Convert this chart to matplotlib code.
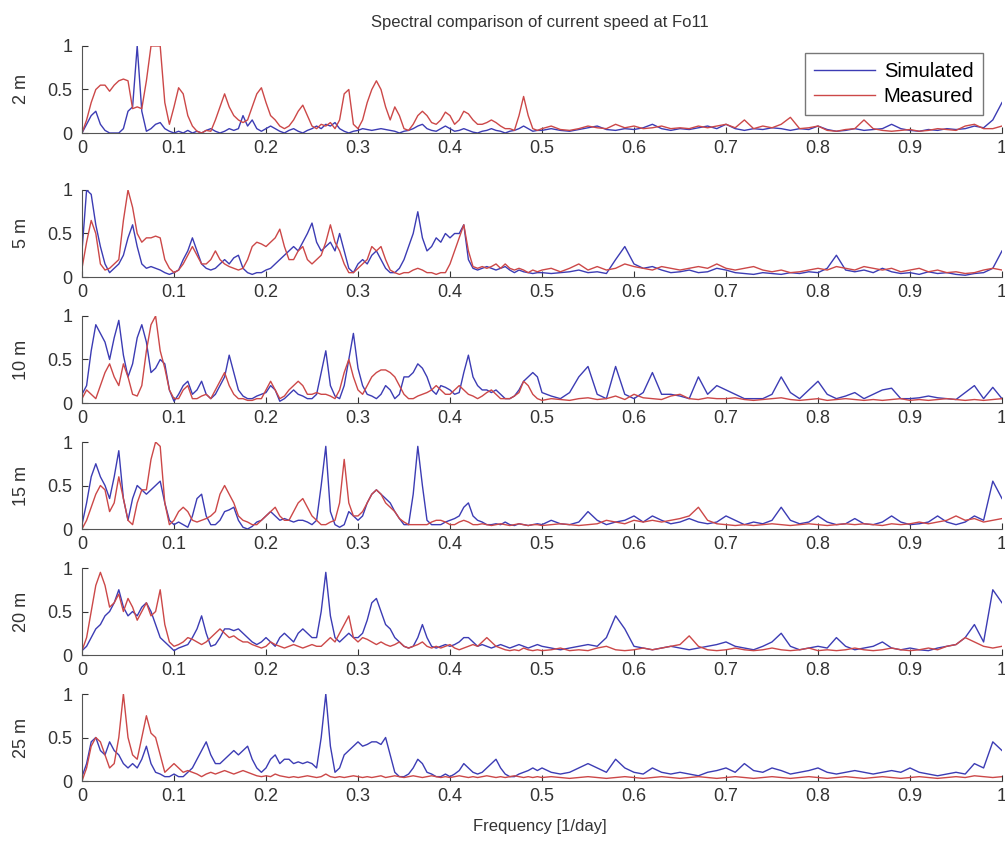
import numpy as np
import matplotlib.pyplot as plt

plt.rcParams['font.family'] = ['Liberation Sans', 'DejaVu Sans']

# frequency grid [1/day]: 0.005 steps up to 0.495, then 0.01 steps to 1.0
freq = np.concatenate([np.arange(100) * 0.005, 0.5 + np.arange(51) * 0.01])

depths = ['2 m', '5 m', '10 m', '15 m', '20 m', '25 m']

# normalised spectra (first 100 values: f < 0.5, last 51: f >= 0.5)
sim_2m = [
    0.0, 0.1, 0.2, 0.25, 0.1, 0.03, 0.0, 0.0, 0.0, 0.05,
    0.25, 0.3, 1.0, 0.25, 0.02, 0.05, 0.1, 0.12, 0.05, 0.02,
    0.0, 0.02, 0.0, 0.03, 0.0, 0.02, 0.0, 0.03, 0.05, 0.02,
    0.0, 0.02, 0.05, 0.03, 0.05, 0.2, 0.08, 0.15, 0.05, 0.02,
    0.05, 0.08, 0.05, 0.02, 0.0, 0.03, 0.05, 0.02, 0.0, 0.03,
    0.05, 0.08, 0.05, 0.1, 0.08, 0.12, 0.05, 0.02, 0.0, 0.02,
    0.03, 0.05, 0.04, 0.03, 0.04, 0.05, 0.04, 0.03, 0.02, 0.0,
    0.02, 0.03, 0.05, 0.08, 0.1, 0.05, 0.03, 0.02, 0.05, 0.08,
    0.05, 0.02, 0.03, 0.05, 0.03, 0.01, 0.0, 0.02, 0.03, 0.05,
    0.03, 0.02, 0.0, 0.02, 0.03, 0.05, 0.08, 0.05, 0.02, 0.03,
    0.03, 0.05, 0.03, 0.02, 0.04, 0.06, 0.08, 0.04, 0.03, 0.05,
    0.04, 0.06, 0.1, 0.05, 0.03, 0.05, 0.04, 0.06, 0.08, 0.05,
    0.1, 0.05, 0.03, 0.05, 0.04, 0.06, 0.05, 0.03, 0.05, 0.04,
    0.08, 0.04, 0.02, 0.03, 0.05, 0.03, 0.04, 0.05, 0.1, 0.05,
    0.03, 0.02, 0.04, 0.03, 0.05, 0.04, 0.05, 0.08, 0.06, 0.15,
    0.35]
meas_2m = [
    0.0, 0.15, 0.35, 0.5, 0.55, 0.55, 0.48, 0.55, 0.6, 0.62,
    0.6, 0.28, 0.3, 0.28, 0.6, 1.0, 1.0, 1.0, 0.35, 0.1,
    0.3, 0.52, 0.45, 0.2, 0.08, 0.02, 0.0, 0.03, 0.02, 0.15,
    0.3, 0.45, 0.3, 0.2, 0.15, 0.12, 0.15, 0.3, 0.45, 0.52,
    0.35, 0.2, 0.15, 0.08, 0.05, 0.08, 0.15, 0.25, 0.32, 0.2,
    0.08, 0.05, 0.1, 0.08, 0.12, 0.05, 0.15, 0.45, 0.5, 0.1,
    0.05, 0.15, 0.35, 0.5, 0.6, 0.5, 0.3, 0.15, 0.3, 0.2,
    0.05, 0.03, 0.1, 0.2, 0.25, 0.2, 0.12, 0.1, 0.15, 0.24,
    0.2, 0.1, 0.15, 0.25, 0.22, 0.15, 0.1, 0.1, 0.12, 0.15,
    0.12, 0.08, 0.05, 0.05, 0.03, 0.2, 0.42, 0.2, 0.05, 0.03,
    0.05, 0.08, 0.04, 0.03, 0.05, 0.08, 0.06, 0.05, 0.1, 0.06,
    0.08, 0.05, 0.06, 0.08, 0.05, 0.06, 0.05, 0.08, 0.06, 0.08,
    0.1, 0.06, 0.15, 0.05, 0.08, 0.06, 0.1, 0.18, 0.05, 0.06,
    0.08, 0.03, 0.02, 0.04, 0.05, 0.15, 0.05, 0.03, 0.02, 0.03,
    0.04, 0.02, 0.03, 0.05, 0.04, 0.03, 0.08, 0.1, 0.05, 0.05,
    0.08]

sim_5m = [
    0.3, 1.0, 0.95, 0.6, 0.35, 0.15, 0.05, 0.1, 0.15, 0.25,
    0.45, 0.6, 0.35, 0.15, 0.1, 0.12, 0.1, 0.08, 0.05, 0.03,
    0.05, 0.08, 0.2, 0.3, 0.45, 0.3, 0.15, 0.1, 0.08, 0.1,
    0.15, 0.2, 0.15, 0.22, 0.25, 0.1, 0.05, 0.03, 0.05, 0.05,
    0.08, 0.1, 0.15, 0.2, 0.25, 0.3, 0.35, 0.3, 0.4, 0.5,
    0.62, 0.4, 0.3, 0.35, 0.4, 0.3, 0.5, 0.3, 0.1, 0.05,
    0.15, 0.2, 0.15, 0.25, 0.3, 0.2, 0.1, 0.05, 0.05, 0.1,
    0.2, 0.35, 0.5, 0.75, 0.45, 0.3, 0.35, 0.45, 0.4, 0.5,
    0.45, 0.5, 0.5, 0.6, 0.2, 0.1, 0.08, 0.1, 0.12, 0.1,
    0.08, 0.1, 0.12, 0.08, 0.05, 0.08, 0.06, 0.05, 0.04, 0.05,
    0.05, 0.04, 0.05, 0.06, 0.08, 0.05, 0.06, 0.04, 0.2, 0.35,
    0.15, 0.1, 0.12, 0.08, 0.05, 0.06, 0.08, 0.05, 0.06, 0.1,
    0.08, 0.05, 0.04, 0.03, 0.05, 0.04, 0.03, 0.05, 0.04, 0.06,
    0.05, 0.1, 0.25, 0.08, 0.06, 0.08, 0.05, 0.1, 0.06, 0.04,
    0.05, 0.03, 0.06, 0.04, 0.05, 0.03, 0.02, 0.04, 0.05, 0.1,
    0.3]
meas_5m = [
    0.1, 0.4, 0.65, 0.5, 0.15, 0.08, 0.1, 0.15, 0.2, 0.65,
    1.0, 0.8, 0.5, 0.4, 0.45, 0.45, 0.47, 0.45, 0.2, 0.1,
    0.05, 0.08, 0.15, 0.25, 0.35, 0.25, 0.15, 0.15, 0.2, 0.3,
    0.2, 0.15, 0.12, 0.1, 0.08, 0.1, 0.2, 0.35, 0.4, 0.38,
    0.35, 0.4, 0.45, 0.55, 0.35, 0.2, 0.2, 0.3, 0.35, 0.2,
    0.15, 0.2, 0.25, 0.4, 0.6, 0.4, 0.3, 0.15, 0.05, 0.05,
    0.1, 0.15, 0.2, 0.35, 0.3, 0.35, 0.2, 0.08, 0.05, 0.03,
    0.05, 0.05, 0.08, 0.1, 0.08, 0.05, 0.05, 0.03, 0.05, 0.05,
    0.15, 0.3, 0.45, 0.6, 0.3, 0.12, 0.1, 0.12, 0.1, 0.12,
    0.15, 0.1, 0.15, 0.1, 0.08, 0.1, 0.08, 0.05, 0.08, 0.06,
    0.08, 0.1, 0.06, 0.1, 0.15, 0.08, 0.12, 0.08, 0.1, 0.15,
    0.12, 0.1, 0.08, 0.12, 0.1, 0.08, 0.1, 0.12, 0.1, 0.15,
    0.1, 0.08, 0.1, 0.12, 0.08, 0.06, 0.08, 0.05, 0.06, 0.08,
    0.1, 0.08, 0.12, 0.1, 0.08, 0.12, 0.1, 0.08, 0.1, 0.06,
    0.08, 0.1, 0.06, 0.08, 0.05, 0.06, 0.04, 0.05, 0.08, 0.1,
    0.08]

sim_10m = [
    0.1, 0.2, 0.6, 0.9, 0.8, 0.7, 0.5, 0.75, 0.95, 0.55,
    0.3, 0.45, 0.75, 0.9, 0.7, 0.35, 0.4, 0.5, 0.45, 0.15,
    0.02, 0.1, 0.2, 0.25, 0.1, 0.15, 0.25, 0.1, 0.05, 0.1,
    0.2, 0.3, 0.55, 0.35, 0.15, 0.08, 0.05, 0.05, 0.08, 0.1,
    0.12, 0.2, 0.15, 0.02, 0.05, 0.1, 0.15, 0.1, 0.08, 0.05,
    0.05, 0.1, 0.35, 0.6, 0.2, 0.08, 0.05, 0.2, 0.5, 0.8,
    0.4, 0.2, 0.1, 0.08, 0.05, 0.1, 0.2, 0.15, 0.05, 0.1,
    0.3, 0.3, 0.35, 0.45, 0.4, 0.3, 0.15, 0.1, 0.2, 0.18,
    0.15, 0.1, 0.12, 0.35, 0.55, 0.3, 0.2, 0.15, 0.15, 0.12,
    0.15, 0.1, 0.05, 0.05, 0.08, 0.15, 0.25, 0.3, 0.35, 0.3,
    0.12, 0.08, 0.05, 0.12, 0.3, 0.42, 0.1, 0.05, 0.42, 0.1,
    0.05, 0.12, 0.35, 0.1, 0.1, 0.08, 0.05, 0.3, 0.1, 0.2,
    0.15, 0.1, 0.05, 0.05, 0.05, 0.1, 0.3, 0.12, 0.05, 0.15,
    0.25, 0.1, 0.05, 0.08, 0.12, 0.05, 0.1, 0.15, 0.17, 0.05,
    0.05, 0.06, 0.08, 0.06, 0.05, 0.04, 0.12, 0.2, 0.05, 0.18,
    0.05]
meas_10m = [
    0.05, 0.15, 0.1, 0.05, 0.2, 0.35, 0.45, 0.3, 0.2, 0.45,
    0.3, 0.1, 0.08, 0.2, 0.6, 0.9, 1.0, 0.6, 0.4, 0.15,
    0.05, 0.05, 0.15, 0.2, 0.05, 0.05, 0.08, 0.1, 0.05, 0.15,
    0.25, 0.35, 0.2, 0.1, 0.05, 0.05, 0.03, 0.03, 0.05, 0.05,
    0.15, 0.25, 0.15, 0.05, 0.08, 0.15, 0.2, 0.25, 0.2, 0.1,
    0.1, 0.12, 0.1, 0.1, 0.08, 0.05, 0.15, 0.35, 0.5, 0.3,
    0.15, 0.1, 0.2, 0.3, 0.35, 0.38, 0.38, 0.35, 0.3, 0.2,
    0.1, 0.05, 0.05, 0.08, 0.1, 0.12, 0.15, 0.2, 0.15, 0.1,
    0.1, 0.15, 0.2, 0.15, 0.1, 0.08, 0.05, 0.08, 0.12, 0.15,
    0.1, 0.05, 0.05, 0.05, 0.08, 0.12, 0.25, 0.2, 0.1, 0.05,
    0.03, 0.05, 0.04, 0.03, 0.05, 0.06, 0.04, 0.05, 0.08, 0.04,
    0.1, 0.06, 0.05, 0.04, 0.08, 0.1, 0.05, 0.04, 0.06, 0.05,
    0.05, 0.06, 0.04, 0.03, 0.04, 0.05, 0.06, 0.04, 0.03, 0.04,
    0.05, 0.03, 0.04, 0.05, 0.04, 0.03, 0.04, 0.03, 0.04, 0.05,
    0.03, 0.04, 0.03, 0.04, 0.05, 0.04, 0.03, 0.04, 0.03, 0.04,
    0.05]

sim_15m = [
    0.05, 0.3, 0.6, 0.75, 0.6, 0.5, 0.35, 0.6, 0.9, 0.35,
    0.1, 0.35, 0.5, 0.45, 0.4, 0.45, 0.5, 0.55, 0.3, 0.1,
    0.05, 0.08, 0.05, 0.02, 0.15, 0.35, 0.4, 0.15, 0.05, 0.05,
    0.1, 0.2, 0.22, 0.25, 0.1, 0.02, 0.0, 0.03, 0.08, 0.1,
    0.15, 0.2, 0.15, 0.1, 0.12, 0.1, 0.08, 0.1, 0.1, 0.08,
    0.05, 0.1, 0.5, 0.95, 0.2, 0.05, 0.02, 0.05, 0.2, 0.15,
    0.1, 0.15, 0.3, 0.4, 0.45, 0.4, 0.35, 0.3, 0.2, 0.12,
    0.05, 0.05, 0.4, 0.95, 0.5, 0.1, 0.05, 0.05, 0.05, 0.08,
    0.1, 0.12, 0.15, 0.25, 0.3, 0.15, 0.1, 0.08, 0.05, 0.05,
    0.06, 0.05, 0.08, 0.05, 0.04, 0.06, 0.05, 0.04, 0.05, 0.06,
    0.05, 0.1, 0.06, 0.05, 0.08, 0.2, 0.1, 0.05, 0.08, 0.1,
    0.15, 0.08, 0.15, 0.1, 0.06, 0.08, 0.12, 0.08, 0.06, 0.08,
    0.15, 0.1, 0.05, 0.08, 0.06, 0.1, 0.25, 0.1, 0.06, 0.08,
    0.15, 0.08, 0.05, 0.06, 0.12, 0.06, 0.05, 0.08, 0.15, 0.08,
    0.05, 0.06, 0.08, 0.15, 0.08, 0.05, 0.08, 0.15, 0.1, 0.55,
    0.35]
meas_15m = [
    0.0, 0.1, 0.25, 0.4, 0.5, 0.45, 0.2, 0.3, 0.6, 0.35,
    0.1, 0.05, 0.3, 0.45, 0.45, 0.8, 1.0, 0.95, 0.3, 0.05,
    0.1, 0.2, 0.25, 0.2, 0.1, 0.08, 0.1, 0.12, 0.15, 0.2,
    0.4, 0.5, 0.4, 0.3, 0.15, 0.1, 0.08, 0.05, 0.05, 0.1,
    0.15, 0.2, 0.25, 0.15, 0.1, 0.1, 0.2, 0.3, 0.35, 0.25,
    0.15, 0.1, 0.05, 0.05, 0.08, 0.1, 0.3, 0.8, 0.3, 0.15,
    0.15, 0.2, 0.3, 0.4, 0.45, 0.4, 0.3, 0.25, 0.2, 0.12,
    0.08, 0.05, 0.05, 0.05, 0.05, 0.05, 0.08, 0.1, 0.1, 0.08,
    0.05, 0.05, 0.08, 0.1, 0.08, 0.05, 0.05, 0.06, 0.05, 0.04,
    0.05, 0.06, 0.05, 0.04, 0.05, 0.06, 0.05, 0.04, 0.05, 0.05,
    0.04, 0.05, 0.06, 0.05, 0.04, 0.05, 0.06, 0.1, 0.08, 0.06,
    0.1, 0.08, 0.1, 0.08, 0.1, 0.12, 0.15, 0.25, 0.1, 0.06,
    0.05, 0.04, 0.05, 0.04, 0.05, 0.06, 0.05, 0.04, 0.05, 0.06,
    0.05, 0.04, 0.05, 0.06, 0.05, 0.06, 0.05, 0.04, 0.06, 0.05,
    0.06, 0.08, 0.06, 0.08, 0.1, 0.15, 0.1, 0.12, 0.08, 0.1,
    0.12]

sim_20m = [
    0.05, 0.1, 0.2, 0.3, 0.35, 0.45, 0.5, 0.6, 0.75, 0.55,
    0.45, 0.5, 0.45, 0.55, 0.6, 0.5, 0.35, 0.2, 0.15, 0.1,
    0.05, 0.08, 0.1, 0.12, 0.2, 0.3, 0.45, 0.25, 0.1, 0.12,
    0.2, 0.3, 0.3, 0.28, 0.3, 0.25, 0.2, 0.15, 0.12, 0.15,
    0.2, 0.15, 0.1, 0.2, 0.25, 0.2, 0.15, 0.25, 0.3, 0.25,
    0.2, 0.2, 0.5, 0.95, 0.45, 0.2, 0.15, 0.2, 0.25, 0.2,
    0.2, 0.25, 0.4, 0.6, 0.65, 0.5, 0.35, 0.3, 0.2, 0.15,
    0.1, 0.08, 0.1, 0.2, 0.35, 0.2, 0.1, 0.08, 0.1, 0.12,
    0.1, 0.12, 0.15, 0.2, 0.2, 0.15, 0.1, 0.12, 0.1, 0.08,
    0.1, 0.12, 0.1, 0.08, 0.1, 0.12, 0.1, 0.08, 0.1, 0.12,
    0.1, 0.08, 0.06, 0.08, 0.1, 0.12, 0.1, 0.2, 0.45, 0.3,
    0.1, 0.08, 0.06, 0.08, 0.1, 0.08, 0.06, 0.08, 0.1, 0.12,
    0.15, 0.1, 0.08, 0.06, 0.1, 0.15, 0.25, 0.1, 0.06, 0.08,
    0.1, 0.08, 0.2, 0.1, 0.06, 0.08, 0.1, 0.15, 0.08, 0.06,
    0.08, 0.06, 0.05, 0.08, 0.1, 0.12, 0.2, 0.35, 0.15, 0.75,
    0.6]
meas_20m = [
    0.05, 0.2, 0.5, 0.8, 0.95, 0.8, 0.55, 0.6, 0.7, 0.5,
    0.65, 0.55, 0.4, 0.5, 0.6, 0.45, 0.5, 0.75, 0.35, 0.15,
    0.1, 0.12, 0.15, 0.2, 0.18, 0.15, 0.12, 0.15, 0.2, 0.25,
    0.3, 0.25, 0.2, 0.22, 0.18, 0.15, 0.15, 0.12, 0.1, 0.08,
    0.1, 0.15, 0.12, 0.1, 0.08, 0.1, 0.12, 0.1, 0.08, 0.1,
    0.12, 0.1, 0.1, 0.15, 0.2, 0.15, 0.25, 0.35, 0.45, 0.2,
    0.15, 0.2, 0.18, 0.15, 0.12, 0.15, 0.12, 0.1, 0.12, 0.15,
    0.1, 0.08, 0.1, 0.12, 0.15, 0.1, 0.08, 0.1, 0.08, 0.1,
    0.12, 0.08, 0.06, 0.08, 0.1, 0.12, 0.1, 0.15, 0.2, 0.15,
    0.1, 0.08, 0.06, 0.05, 0.06, 0.05, 0.08, 0.06, 0.05, 0.06,
    0.05, 0.06, 0.08, 0.05, 0.06, 0.05, 0.08, 0.1, 0.06, 0.05,
    0.06, 0.08, 0.06, 0.08, 0.1, 0.12, 0.22, 0.1, 0.06, 0.05,
    0.06, 0.08, 0.06, 0.05, 0.06, 0.08, 0.06, 0.05, 0.06, 0.08,
    0.05, 0.06, 0.05, 0.06, 0.08, 0.06, 0.05, 0.06, 0.08, 0.06,
    0.05, 0.06, 0.08, 0.06, 0.1, 0.12, 0.2, 0.15, 0.1, 0.08,
    0.1]

sim_25m = [
    0.05, 0.2, 0.45, 0.5, 0.35, 0.3, 0.45, 0.35, 0.3, 0.2,
    0.15, 0.2, 0.15, 0.25, 0.4, 0.2, 0.1, 0.08, 0.05, 0.05,
    0.08, 0.05, 0.05, 0.1, 0.15, 0.25, 0.35, 0.45, 0.3, 0.2,
    0.2, 0.25, 0.3, 0.35, 0.3, 0.35, 0.4, 0.25, 0.15, 0.1,
    0.15, 0.25, 0.3, 0.2, 0.25, 0.25, 0.2, 0.22, 0.2, 0.22,
    0.2, 0.15, 0.5, 1.0, 0.4, 0.1, 0.15, 0.3, 0.35, 0.4,
    0.45, 0.4, 0.42, 0.45, 0.45, 0.42, 0.5, 0.3, 0.1, 0.05,
    0.05, 0.08, 0.15, 0.25, 0.2, 0.1, 0.08, 0.05, 0.05, 0.08,
    0.05, 0.08, 0.12, 0.2, 0.15, 0.1, 0.08, 0.1, 0.15, 0.2,
    0.25, 0.15, 0.08, 0.05, 0.05, 0.08, 0.1, 0.12, 0.15, 0.12,
    0.15, 0.1, 0.08, 0.1, 0.15, 0.2, 0.15, 0.1, 0.25, 0.15,
    0.1, 0.08, 0.15, 0.1, 0.08, 0.1, 0.08, 0.06, 0.1, 0.12,
    0.15, 0.1, 0.2, 0.12, 0.1, 0.15, 0.12, 0.08, 0.1, 0.12,
    0.15, 0.1, 0.08, 0.1, 0.12, 0.1, 0.08, 0.1, 0.12, 0.1,
    0.15, 0.1, 0.08, 0.06, 0.08, 0.1, 0.08, 0.2, 0.15, 0.45,
    0.35]
meas_25m = [
    0.0, 0.15, 0.4, 0.5, 0.45, 0.3, 0.15, 0.2, 0.5, 1.0,
    0.5, 0.3, 0.25, 0.5, 0.75, 0.55, 0.5, 0.3, 0.1, 0.15,
    0.2, 0.15, 0.1, 0.12, 0.1, 0.08, 0.05, 0.08, 0.1, 0.08,
    0.1, 0.12, 0.1, 0.08, 0.1, 0.12, 0.1, 0.08, 0.06, 0.05,
    0.06, 0.05, 0.08, 0.06, 0.05, 0.04, 0.05, 0.04, 0.05, 0.06,
    0.05, 0.04, 0.05, 0.08, 0.05, 0.04, 0.05, 0.04, 0.05, 0.06,
    0.05, 0.04, 0.05, 0.04, 0.05, 0.06, 0.04, 0.05, 0.06, 0.05,
    0.04, 0.05, 0.06, 0.05, 0.04, 0.05, 0.06, 0.05, 0.04, 0.05,
    0.04, 0.05, 0.06, 0.05, 0.04, 0.05, 0.04, 0.05, 0.06, 0.05,
    0.04, 0.05, 0.04, 0.05, 0.06, 0.05, 0.04, 0.05, 0.04, 0.05,
    0.04, 0.05, 0.04, 0.03, 0.04, 0.05, 0.04, 0.03, 0.04, 0.05,
    0.04, 0.03, 0.04, 0.05, 0.04, 0.03, 0.04, 0.05, 0.04, 0.03,
    0.04, 0.05, 0.04, 0.03, 0.04, 0.05, 0.04, 0.03, 0.04, 0.05,
    0.04, 0.03, 0.04, 0.05, 0.04, 0.03, 0.04, 0.05, 0.04, 0.03,
    0.04, 0.05, 0.04, 0.03, 0.04, 0.05, 0.04, 0.06, 0.05, 0.04,
    0.05]

simulated = [sim_2m, sim_5m, sim_10m, sim_15m, sim_20m, sim_25m]
measured = [meas_2m, meas_5m, meas_10m, meas_15m, meas_20m, meas_25m]

xticks = np.round(np.arange(0, 1.01, 0.1), 1)
xticklabels = ['0', '0.1', '0.2', '0.3', '0.4', '0.5', '0.6', '0.7', '0.8', '0.9', '1']

W, H = 1005, 847
fig = plt.figure(figsize=(W / 100, H / 100), dpi=100)

ax_left, ax_w, ax_h = 82, 920, 87
ax_tops = [46, 190, 316, 442, 568, 694]
blue = '#3c3cb4'
red = '#cc4848'

for i in range(6):
    top = ax_tops[i]
    ax = fig.add_axes([ax_left / W, 1 - (top + ax_h) / H, ax_w / W, ax_h / H])
    ax.plot(freq, simulated[i], color=blue, lw=1.0, label='Simulated')
    ax.plot(freq, measured[i], color=red, lw=1.0, label='Measured')
    ax.set_xlim(0, 1)
    ax.set_ylim(0, 1)
    ax.spines['top'].set_visible(False)
    ax.spines['right'].set_visible(False)
    for s in ['left', 'bottom']:
        ax.spines[s].set_color('#555555')
    ax.set_yticks([0, 0.5, 1])
    ax.set_yticklabels(['0', '0.5', '1'])
    ax.set_xticks(xticks)
    ax.set_xticklabels(xticklabels)
    ax.tick_params(direction='in', length=4, labelsize=13, colors='#333333')
    ax.tick_params(axis='x', pad=5)
    ax.tick_params(axis='y', pad=7)
    fig.text(22 / W, 1 - (top + ax_h / 2) / H, depths[i], rotation=90,
             ha='center', va='center', fontsize=13, color='#333333')
    if i == 0:
        ax.legend(loc='upper right', bbox_to_anchor=(0.979, 0.92), borderaxespad=0,
                  fancybox=False, edgecolor='#777777', fontsize=14.5,
                  handlelength=3.0, handletextpad=0.45, borderpad=0.45,
                  labelspacing=0.3, framealpha=1)

fig.text(540 / W, 1 - 22 / H, 'Spectral comparison of current speed at Fo11',
         ha='center', va='center', fontsize=12, color='#333333')
fig.text(540 / W, 1 - 826 / H, 'Frequency [1/day]',
         ha='center', va='center', fontsize=12, color='#333333')

fig.savefig('out.png', dpi=100)
